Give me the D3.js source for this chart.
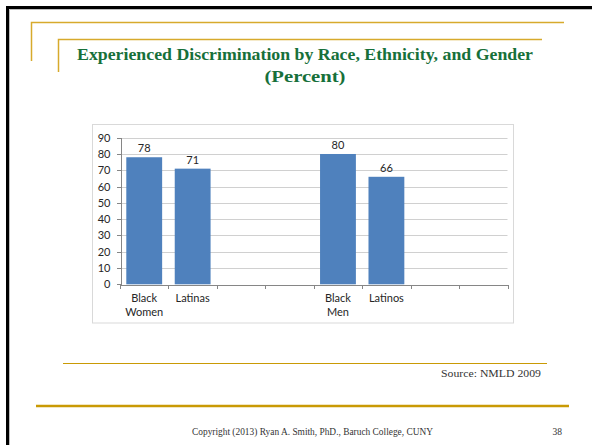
<!DOCTYPE html>
<html>
<head>
<meta charset="utf-8">
<script src="https://cdn.jsdelivr.net/npm/d3@7/dist/d3.min.js"></script>
<style>
  html, body { margin: 0; padding: 0; background: #fff; }
  svg { display: block; }
  .axis path, .axis line { stroke: #868686; shape-rendering: crispEdges; }
  .axis text { font-family: Lato, "Open Sans", sans-serif; font-size: 11px; fill: #262626; }
</style>
</head>
<body>
<svg id="slide" width="592" height="445"></svg>
<script>
// Chart data
const categories = ["Black Women", "Latinas", "", "", "Black Men", "Latinos", "", ""];
const categoryLines = [["Black", "Women"], ["Latinas"], [], [], ["Black", "Men"], ["Latinos"], [], []];
const values = [78, 71, null, null, 80, 66, null, null];
const yTicks = [0, 10, 20, 30, 40, 50, 60, 70, 80, 90];

const titleLines = ["Experienced Discrimination by Race, Ethnicity, and Gender", "(Percent)"];
const sourceText = "Source: NMLD  2009";
const footerText = "Copyright (2013) Ryan A. Smith, PhD., Baruch College, CUNY";
const pageNumber = "38";

const svg = d3.select("#slide");
const gold = "#d7aa2c";
const darkGold = "#c99a04";
const green = "#17703a";

// Slide frame
svg.append("rect").attr("x", 0).attr("y", 0).attr("width", 592).attr("height", 445).attr("fill", "#fff");
svg.append("path").attr("d", "M7.5,445 V7.5 H592").attr("fill", "none").attr("stroke", "#000").attr("stroke-width", 3);
svg.append("path").attr("d", "M9.5,445 V9.5 H592").attr("fill", "none").attr("stroke", "#bdbdbd").attr("stroke-width", 1);

// Decorative rules around the title
svg.append("path").attr("d", "M31.5,61 V22.5 H564").attr("fill", "none").attr("stroke", gold).attr("stroke-width", 1.5);
svg.append("path").attr("d", "M58.5,72 V39.5 H542").attr("fill", "none").attr("stroke", gold).attr("stroke-width", 1.5);

// Title
const titleWidths = [456, 81];
const titleBaselines = [60, 82];
titleLines.forEach((t, i) => {
  svg.append("text")
    .attr("x", 305).attr("y", titleBaselines[i])
    .attr("text-anchor", "middle")
    .attr("textLength", titleWidths[i]).attr("lengthAdjust", "spacingAndGlyphs")
    .style("font-family", "'Liberation Serif', 'DejaVu Serif', serif")
    .style("font-weight", "bold").style("font-size", "17px")
    .attr("fill", green)
    .text(t);
});

// Chart frame
svg.append("rect")
  .attr("x", 92.5).attr("y", 124.5).attr("width", 421).attr("height", 198.5)
  .attr("fill", "#fff").attr("stroke", "#d9d9d9").attr("stroke-width", 1);

const plot = { left: 120, right: 507.5, top: 137.7, bottom: 284.3 };

const x = d3.scaleBand()
  .domain(d3.range(categories.length))
  .range([plot.left, plot.right])
  .paddingInner(0.26).paddingOuter(0.13);

const xEdge = d3.scaleLinear().domain([0, categories.length]).range([plot.left, plot.right]);

const y = d3.scaleLinear().domain([0, 90]).range([plot.bottom, plot.top]);

// Gridlines
svg.append("g")
  .selectAll("line")
  .data(yTicks.filter(v => v > 0))
  .join("line")
  .attr("x1", plot.left).attr("x2", plot.right)
  .attr("y1", d => Math.round(y(d)) + 0.5).attr("y2", d => Math.round(y(d)) + 0.5)
  .attr("stroke", "#d0d0d0").attr("stroke-width", 1);

// Bars
svg.append("g")
  .selectAll("rect")
  .data(values.map((v, i) => ({ v, i })).filter(d => d.v != null))
  .join("rect")
  .attr("x", d => x(d.i))
  .attr("width", x.bandwidth())
  .attr("y", d => y(d.v))
  .attr("height", d => y(0) - y(d.v))
  .attr("fill", "#4f81bd");

// Value labels
svg.append("g")
  .selectAll("text")
  .data(values.map((v, i) => ({ v, i })).filter(d => d.v != null))
  .join("text")
  .attr("x", d => x(d.i) + x.bandwidth() / 2)
  .attr("y", d => y(d.v) - 5)
  .attr("text-anchor", "middle")
  .style("font-family", "Lato, 'Open Sans', sans-serif").style("font-size", "11px")
  .attr("fill", "#262626")
  .text(d => d.v);

// Y axis
const yAxis = svg.append("g")
  .attr("class", "axis")
  .attr("transform", `translate(${plot.left + 0.5},0)`)
  .call(d3.axisLeft(y).tickValues(yTicks).tickSize(4).tickPadding(6).tickSizeOuter(0));

// X axis with tick marks at category boundaries
svg.append("g")
  .attr("class", "axis")
  .attr("transform", `translate(0,${Math.round(plot.bottom) + 0.5})`)
  .call(d3.axisBottom(xEdge).tickValues(d3.range(categories.length + 1)).tickFormat("").tickSize(4).tickSizeOuter(0));

// Category labels
const catG = svg.append("g");
categoryLines.forEach((lines, i) => {
  if (!lines.length) return;
  const t = catG.append("text")
    .attr("text-anchor", "middle")
    .style("font-family", "Lato, 'Open Sans', sans-serif").style("font-size", "11px")
    .attr("fill", "#262626");
  lines.forEach((ln, j) => {
    t.append("tspan")
      .attr("x", x(i) + x.bandwidth() / 2)
      .attr("y", 302 + j * 13.7)
      .text(ln);
  });
});

// Source note
svg.append("line").attr("x1", 63).attr("x2", 547).attr("y1", 363.5).attr("y2", 363.5)
  .attr("stroke", darkGold).attr("stroke-width", 1.2);
svg.append("text")
  .attr("x", 541).attr("y", 377).attr("text-anchor", "end")
  .attr("textLength", 100).attr("lengthAdjust", "spacingAndGlyphs")
  .style("font-family", "'Liberation Serif', serif").style("font-size", "10.5px")
  .attr("fill", "#333")
  .text(sourceText);

// Footer
svg.append("line").attr("x1", 36).attr("x2", 569).attr("y1", 406).attr("y2", 406)
  .attr("stroke", darkGold).attr("stroke-width", 2.4);
svg.append("text")
  .attr("x", 312.5).attr("y", 434.5).attr("text-anchor", "middle")
  .attr("textLength", 241).attr("lengthAdjust", "spacingAndGlyphs")
  .style("font-family", "'Liberation Serif', serif").style("font-size", "9.5px")
  .attr("fill", "#333")
  .text(footerText);
svg.append("text")
  .attr("x", 562).attr("y", 434.5).attr("text-anchor", "end")
  .style("font-family", "'Liberation Serif', serif").style("font-size", "9.5px")
  .attr("fill", "#333")
  .text(pageNumber);
</script>
</body>
</html>
